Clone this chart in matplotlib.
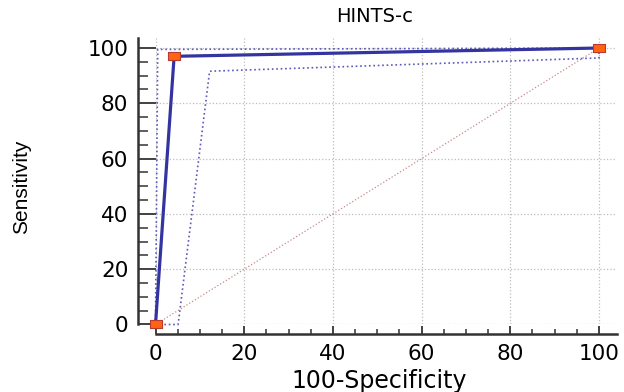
import matplotlib
matplotlib.use("Agg")
import matplotlib.pyplot as plt
from matplotlib.ticker import MultipleLocator

# Data
roc_x = [0, 4.2, 100]
roc_y = [0, 97.0, 100]
lower_x = [0, 5.1, 12.2, 100, 100]
lower_y = [0, 0, 91.6, 96.4, 100]
upper_x = [0, 0.5, 100]
upper_y = [0, 99.5, 100]
diag_x = [0, 100]
diag_y = [0, 100]
xticks = [0, 20, 40, 60, 80, 100]
yticks = [0, 20, 40, 60, 80, 100]
title = "HINTS-c"
xlabel = "100-Specificity"
ylabel = "Sensitivity"

DPI = 100
fig = plt.figure(figsize=(6.24, 3.92), dpi=DPI)
ax = fig.add_axes([0.2492, 0.1722, 0.7392, 0.730])
ax.set_xlim(0, 104)
ax.set_ylim(0, 103.5)

ax.grid(True, which="major", color="#bdbdbd", linestyle=":", linewidth=0.9)
ax.set_axisbelow(True)

ax.plot(diag_x, diag_y, color="#c58a8a", linestyle=":", linewidth=0.9, clip_on=False, zorder=2)
ax.plot(upper_x, upper_y, color="#5a5ab8", linestyle=":", linewidth=1.2, clip_on=False, zorder=3)
ax.plot(lower_x, lower_y, color="#5a5ab8", linestyle=":", linewidth=1.2, clip_on=False, zorder=3)
rect = [(-1.6, -1), (1.6, -1), (1.6, 1), (-1.6, 1), (-1.6, -1)]
ax.plot(roc_x, roc_y, color="#3434a0", linewidth=2.3, clip_on=False, zorder=4)
ax.plot(roc_x, roc_y, linestyle="none", marker=rect, markersize=8.5,
        markerfacecolor="#ff6410", markeredgecolor="#b83a30", markeredgewidth=0.8,
        clip_on=False, zorder=5)

for s in ["top", "right"]:
    ax.spines[s].set_visible(False)
ax.spines["left"].set_position(("outward", 12.6))
ax.spines["bottom"].set_position(("outward", 6.8))
for s in ["left", "bottom"]:
    ax.spines[s].set_linewidth(1.8)
    ax.spines[s].set_color("#333333")

ax.set_xticks(xticks)
ax.set_yticks(yticks)
ax.xaxis.set_minor_locator(MultipleLocator(5))
ax.yaxis.set_minor_locator(MultipleLocator(5))
ax.tick_params(axis="y", which="major", direction="in", length=13, width=1.3, color="#333333", pad=7, labelsize=15.5)
ax.tick_params(axis="x", which="major", direction="in", length=6, width=1.3, color="#333333", pad=7, labelsize=15.5)
ax.tick_params(axis="y", which="minor", direction="in", length=7, width=1.1, color="#333333")
ax.tick_params(axis="x", which="minor", direction="in", length=3.5, width=1.1, color="#333333")

fig.text(375 / 624, 1 - 16 / 392, title, ha="center", va="center", fontsize=14, family="DejaVu Sans")
fig.text(379 / 624, 1 - 388 / 392, xlabel, ha="center", va="baseline", fontsize=17, family="DejaVu Sans")
fig.text(22 / 624, 1 - 187 / 392, ylabel, ha="center", va="center", rotation=90, fontsize=15, family="Liberation Sans")

fig.savefig("out.png", dpi=DPI)
